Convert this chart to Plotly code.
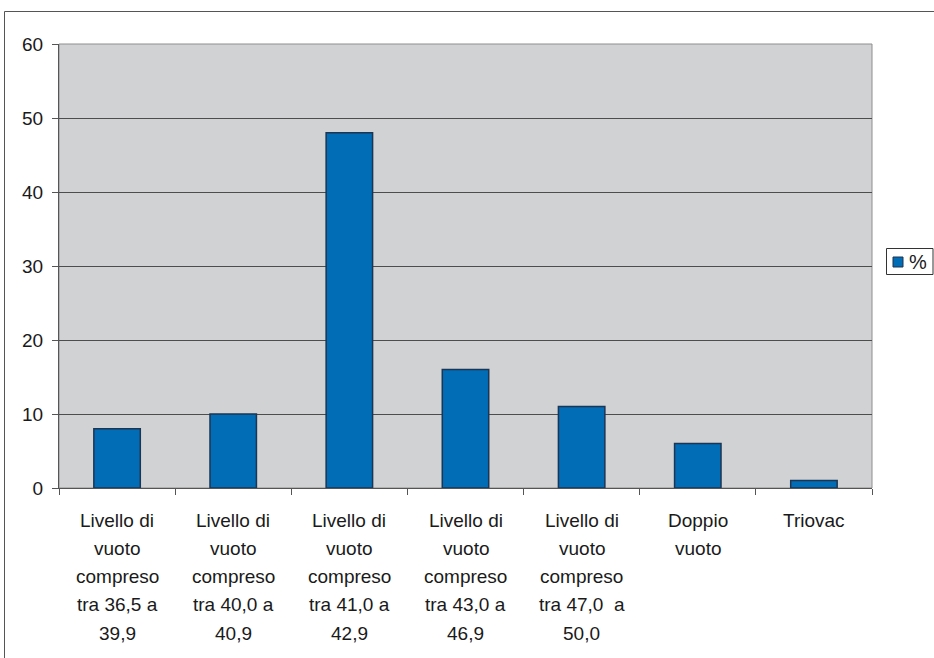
import plotly.graph_objects as go

# Data
categories = [
    "Livello di<br>vuoto<br>compreso<br>tra 36,5 a<br>39,9",
    "Livello di<br>vuoto<br>compreso<br>tra 40,0 a<br>40,9",
    "Livello di<br>vuoto<br>compreso<br>tra 41,0 a<br>42,9",
    "Livello di<br>vuoto<br>compreso<br>tra 43,0 a<br>46,9",
    "Livello di<br>vuoto<br>compreso<br>tra 47,0  a<br>50,0",
    "Doppio<br>vuoto",
    "Triovac",
]
values = [8, 10, 48, 16, 11, 6, 1]
series_name = "%"
y_ticks = [0, 10, 20, 30, 40, 50, 60]

# Page geometry (pixels)
W, H = 934, 658
L, R, T, B = 59, 872, 44, 488
pw, ph = R - L, B - T


def px_x(x):
    return (x - L) / pw


def px_y(y):
    return (B - y) / ph


FONT = "Liberation Sans, Arial, sans-serif"
TEXT = "#1a1a1a"
BAR = "#006db6"
BAR_EDGE = "#1c3553"

fig = go.Figure()
fig.add_trace(go.Bar(
    x=categories, y=values, name=series_name,
    marker=dict(color=BAR, line=dict(color=BAR_EDGE, width=1.5)),
    showlegend=False,
))

# Multi-line category labels with wider line spacing
line_gap = 28.3
for cat in categories:
    for i, part in enumerate(cat.split("<br>")):
        fig.add_annotation(
            x=cat, y=0, xref="x", yref="y", text=part, showarrow=False,
            yanchor="middle", xanchor="center", yshift=-(32 + line_gap * i),
            font=dict(family=FONT, size=19, color=TEXT),
        )

shapes = [
    # plot frame (top / right)
    dict(type="rect", xref="paper", yref="paper", x0=0, x1=1, y0=0, y1=1,
         line=dict(color="#8e8e8e", width=1), layer="below"),
    # outer chart border (left and top)
    dict(type="line", xref="paper", yref="paper",
         x0=px_x(4.5), x1=px_x(4.5), y0=px_y(H + 2), y1=px_y(11.5),
         line=dict(color="#555555", width=1)),
    dict(type="line", xref="paper", yref="paper",
         x0=px_x(4.5), x1=px_x(W + 2), y0=px_y(11.5), y1=px_y(11.5),
         line=dict(color="#555555", width=1)),
    # legend box and swatch
    dict(type="rect", xref="paper", yref="paper",
         x0=px_x(886.5), x1=px_x(933), y0=px_y(274.5), y1=px_y(248.5),
         line=dict(color="#333333", width=1), fillcolor="white"),
    dict(type="rect", xref="paper", yref="paper",
         x0=px_x(893), x1=px_x(903), y0=px_y(267), y1=px_y(257),
         line=dict(color=BAR_EDGE, width=1), fillcolor=BAR),
]
fig.add_annotation(
    x=px_x(907), y=px_y(261.5), xref="paper", yref="paper", text=series_name,
    showarrow=False, xanchor="left", yanchor="middle",
    font=dict(family=FONT, size=20, color=TEXT),
)

fig.update_layout(
    width=W, height=H,
    margin=dict(l=L, r=W - R, t=T, b=H - B, pad=0),
    paper_bgcolor="white",
    plot_bgcolor="#d1d2d4",
    bargap=0.6,
    shapes=shapes,
    font=dict(family=FONT, size=19, color=TEXT),
)
fig.update_yaxes(
    range=[0, 60], tickvals=y_ticks, ticks="outside", ticklen=6,
    tickcolor="#555555", showline=True, linecolor="#555555", linewidth=1,
    showgrid=True, gridcolor="#4d4d4d", gridwidth=1, zeroline=False,
    tickfont=dict(family=FONT, size=19, color=TEXT), ticklabelstandoff=5,
)
fig.update_xaxes(
    type="category", showticklabels=False, tickson="boundaries",
    ticks="outside", ticklen=6, tickcolor="#555555",
    showline=True, linecolor="#555555", linewidth=1, showgrid=False,
)

fig.write_html("out.html")
